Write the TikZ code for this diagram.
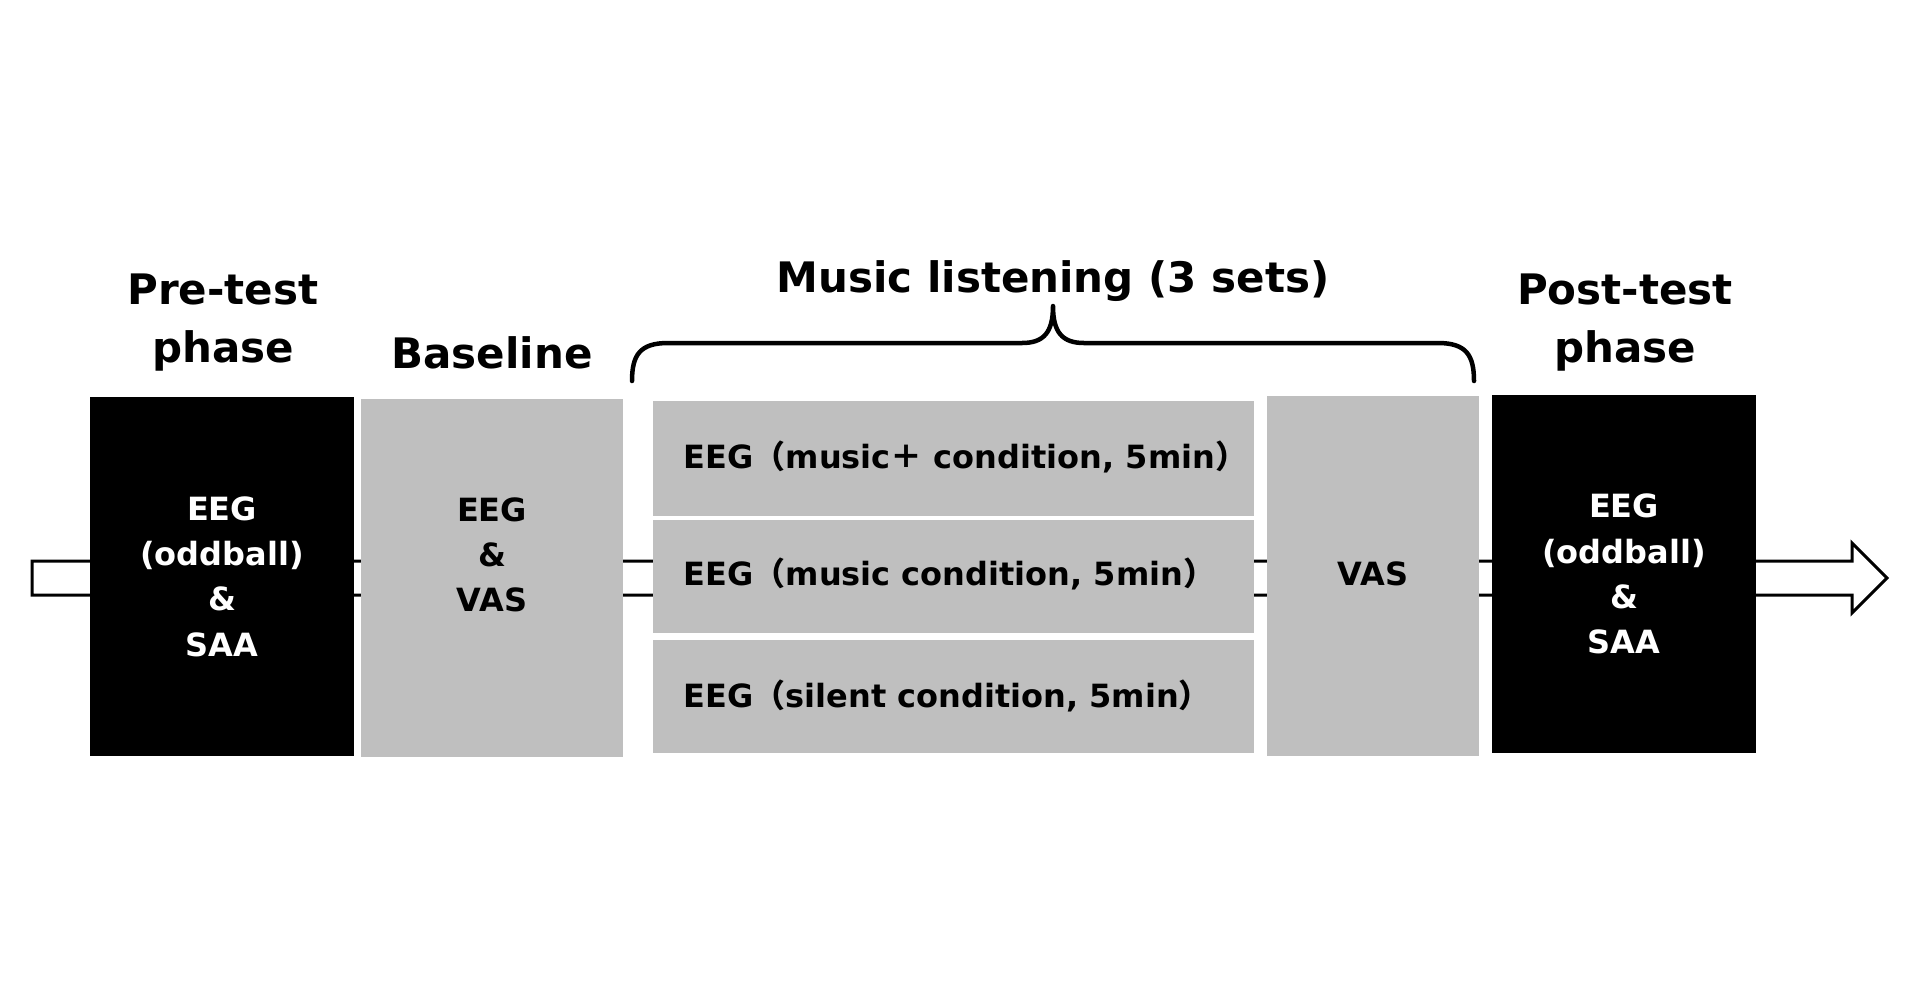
\documentclass[tikz,border=0pt]{standalone}
\usepackage{fontspec}
\setmainfont{DejaVu Sans}[BoldFont={DejaVu Sans Bold}]
\newfontfamily\cjkbold{Noto Sans CJK JP Bold}
\newcommand{\fwlparen}{{\cjkbold （}}
\newcommand{\fwrparen}{{\cjkbold ）}}
\newcommand{\fwplus}{{\cjkbold ＋}}
\begin{document}
\begin{tikzpicture}[x=1pt,y=-1pt,
  blackbox/.style={draw=none,fill=black,inner sep=0pt},
  graybox/.style={draw=none,fill=boxgray,inner sep=0pt},
  boxtext/.style={font=\fontsize{32}{45.3}\selectfont\bfseries,align=center,inner sep=0pt},
  headtext/.style={font=\fontsize{42}{50}\selectfont\bfseries,inner sep=0pt,anchor=base},
  timeline/.style={draw=black,fill=white,line width=3pt,line join=miter},
  bracestyle/.style={draw=black,line width=4.5pt,line cap=round,line join=round}]
\definecolor{boxgray}{HTML}{BFBFBF}
\useasboundingbox (0,0) rectangle (1920,1005);
\fill[white] (0,0) rectangle (1920,1005);

% timeline arrow
\coordinate (tlS) at (32,578);
\coordinate (tlE) at (1887,578);
\draw[timeline] ([yshift=17pt]tlS) -- (1852,561) -- (1852,543) -- (tlE) -- (1852,613) -- (1852,595) -- ([yshift=-17pt]tlS) -- cycle;

% boxes
\node[blackbox, minimum width=264pt, minimum height=359pt] (pre) at (222,576.5) {};
\node[graybox, minimum width=262pt, minimum height=358pt] (base) at (492,578) {};
\node[graybox, minimum width=601pt, minimum height=115pt] (m1) at (953.5,458.5) {};
\node[graybox, minimum width=601pt, minimum height=113pt] (m2) at (953.5,576.5) {};
\node[graybox, minimum width=601pt, minimum height=113pt] (m3) at (953.5,696.5) {};
\node[graybox, minimum width=212pt, minimum height=360pt] (vas) at (1373,576) {};
\node[blackbox, minimum width=264pt, minimum height=358pt] (post) at (1624,574) {};

% box texts
\node[boxtext, text=white] (preT) at (pre.center) {EEG\\(oddball)\\\&\\SAA};
\node[boxtext] (baseT) at (492,555) {EEG\\\&\\VAS};
\node[boxtext, anchor=base west] (m1T) at (683.5,468.5) {EEG\fwlparen music\fwplus\ condition, 5min\fwrparen};
\node[boxtext, anchor=base west] (m2T) at (683.5,585.5) {EEG\fwlparen music condition, 5min\fwrparen};
\node[boxtext, anchor=base west] (m3T) at (683.5,707) {EEG\fwlparen silent condition, 5min\fwrparen};
\node[boxtext, anchor=base] (vasT) at (1373,585.5) {VAS};
\node[boxtext, text=white] (postT) at (post.center) {EEG\\(oddball)\\\&\\SAA};

% headings
\node[headtext] (preH1) at (223,304) {Pre-test};
\node[headtext] (preH2) at (223,362) {phase};
\node[headtext] (baseH) at (492,368) {Baseline};
\node[headtext] (postH1) at (1625,304) {Post-test};
\node[headtext] (postH2) at (1625,362) {phase};
\node[headtext] (musicH) at (1053,292) {Music listening (3 sets)};

% brace
\coordinate (brL) at (632,381);
\coordinate (brM) at (1053,306);
\coordinate (brR) at (1474,381);
\draw[bracestyle] (brL) .. controls (632,355) and (640,343) .. (668,343) -- (1022,343) .. controls (1044,343) and (1053,332) .. (brM)
  .. controls (1053,332) and (1062,343) .. (1084,343) -- (1438,343) .. controls (1466,343) and (1474,355) .. (brR);
\end{tikzpicture}
\end{document}
